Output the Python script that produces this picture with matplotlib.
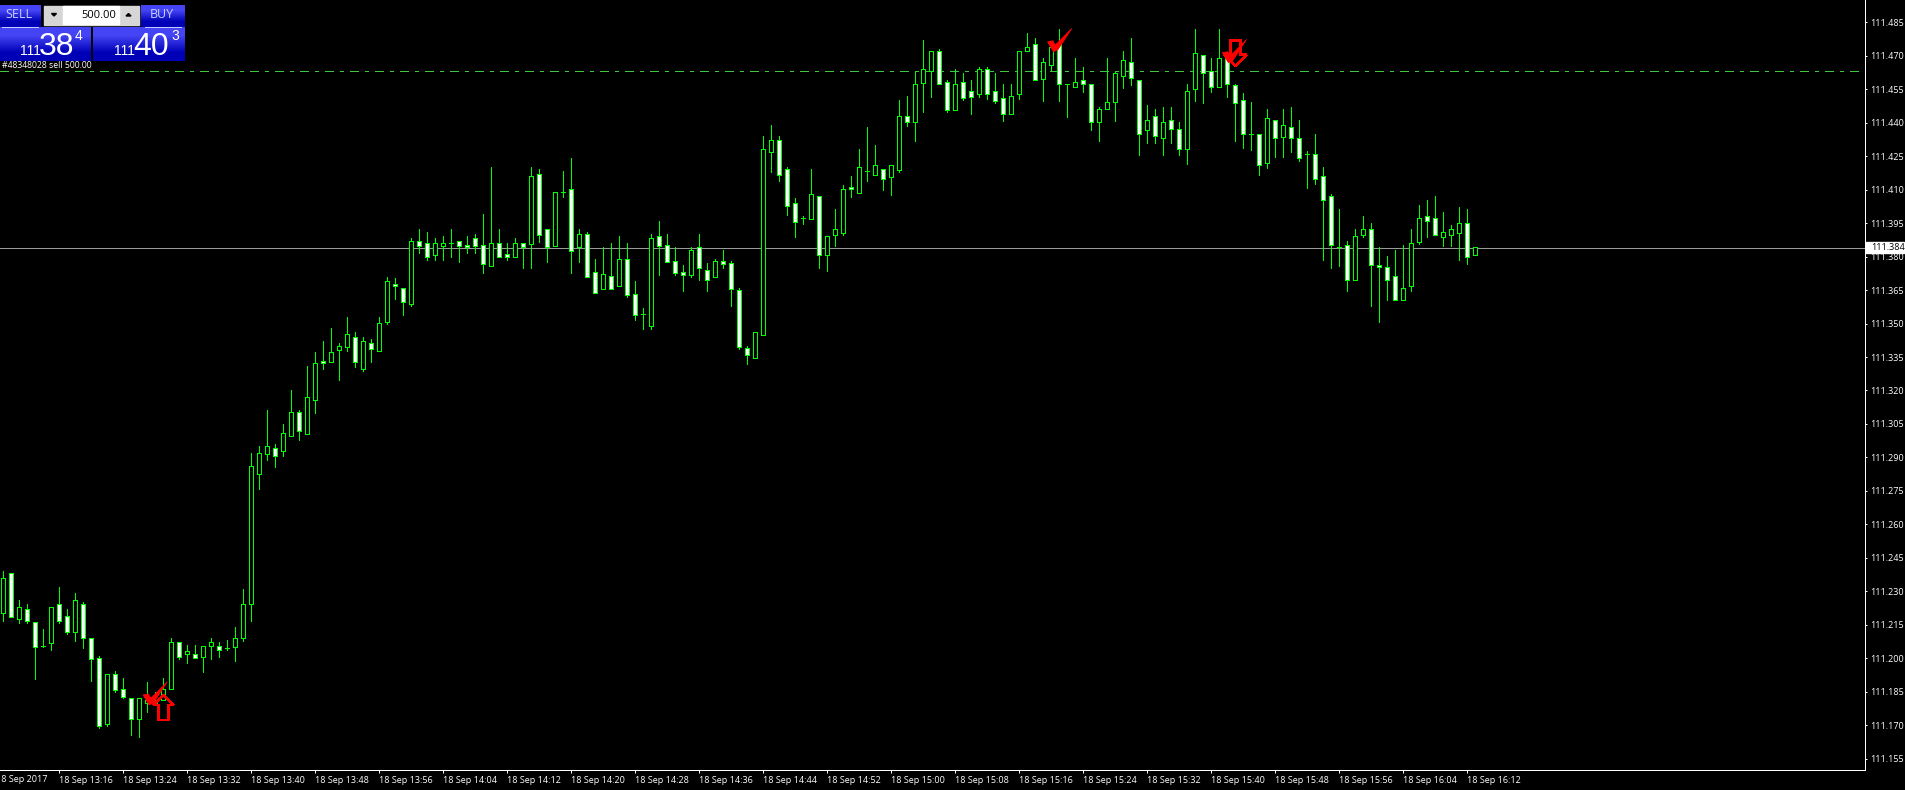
import matplotlib
matplotlib.use('Agg')
import matplotlib.pyplot as plt
from matplotlib.patches import Polygon
from matplotlib.transforms import Affine2D
import numpy as np

plt.rcParams['lines.scale_dashes'] = False

# ----------- DATA (one bar a minute, thousandths above 111) --------------------------------
opens = [
    220.1, 238.1, 217.7, 221.9, 216.1, 205.6, 207.0, 224.2, 218.8, 211.9,
    224.2, 208.9, 200.0, 170.7, 192.8, 186.1, 182.0, 172.9, 179.8, 179.8,
    181.1, 186.1, 207.1, 202.0, 202.0, 200.7, 205.6, 205.6, 204.8, 204.9,
    208.9, 224.2, 282.7, 291.7, 294.1, 293.0, 299.8, 310.2, 300.7, 315.9,
    333.1, 332.9, 338.0, 339.6, 343.8, 329.8, 341.1, 337.8, 350.8, 367.8,
    365.8, 358.9, 386.8, 385.9, 380.9, 384.9, 385.9, 386.8, 385.0, 388.2,
    385.0, 375.9, 385.9, 381.0, 380.0, 385.9, 385.8, 416.9, 392.2, 384.9,
    408.8, 410.2, 384.2, 390.0, 372.9, 365.6, 371.2, 367.0, 378.8, 363.1,
    354.1, 349.1, 389.1, 385.0, 377.9, 372.9, 371.9, 384.2, 373.8, 371.0,
    377.9, 377.0, 364.9, 338.9, 334.7, 345.0, 427.0, 432.1, 419.1, 403.9,
    397.3, 397.0, 407.0, 380.9, 389.8, 390.7, 411.0, 408.7, 418.2, 416.7,
    419.1, 415.8, 419.0, 442.9, 440.2, 457.9, 463.0, 472.0, 458.1, 445.8,
    458.1, 454.1, 453.0, 463.9, 454.1, 450.9, 444.0, 453.0, 472.0, 475.1,
    459.7, 466.0, 475.1, 457.2, 455.9, 459.0, 457.2, 440.2, 446.0, 449.1,
    460.8, 467.1, 459.0, 436.9, 442.9, 433.0, 441.1, 437.0, 428.1, 455.0,
    470.2, 463.0, 455.9, 468.9, 456.9, 450.0, 434.8, 434.8, 421.8, 441.1,
    433.7, 437.9, 433.0, 425.8, 425.8, 416.0, 407.0, 384.2, 385.0, 369.7,
    389.8, 392.2, 376.1, 375.2, 371.2, 360.7, 367.0, 386.7, 398.1, 397.2,
    388.9, 389.8, 390.7, 394.9, 380.9,
]
highs = [
    239.1, 238.1, 226.1, 224.3, 216.1, 213.1, 222.8, 231.8, 222.0, 229.3,
    225.1, 208.9, 200.9, 192.8, 194.1, 191.2, 182.0, 182.0, 189.4, 185.0,
    191.2, 208.9, 207.1, 206.0, 206.0, 205.6, 208.9, 207.1, 208.2, 213.9,
    231.0, 291.8, 295.1, 311.3, 296.0, 305.0, 320.2, 311.3, 331.1, 337.2,
    342.2, 348.0, 341.1, 352.9, 346.2, 344.0, 343.1, 352.9, 370.8, 370.5,
    365.8, 388.2, 392.4, 391.0, 388.3, 389.2, 392.4, 386.8, 389.2, 390.1,
    399.1, 420.2, 392.4, 386.1, 388.3, 385.9, 420.2, 419.3, 392.2, 408.8,
    418.4, 424.2, 392.4, 391.0, 378.9, 384.2, 386.1, 389.2, 386.1, 369.1,
    357.0, 390.1, 396.0, 390.1, 384.2, 376.2, 384.2, 390.1, 377.2, 378.9,
    382.9, 378.0, 365.8, 339.9, 346.1, 434.0, 439.0, 434.0, 420.0, 406.3,
    398.2, 419.3, 407.0, 389.1, 401.3, 412.1, 416.1, 428.2, 438.1, 430.0,
    419.1, 420.9, 450.2, 452.0, 462.9, 477.1, 472.0, 473.0, 459.0, 463.9,
    462.1, 459.1, 464.8, 464.8, 462.1, 457.2, 457.2, 472.0, 480.1, 478.0,
    468.9, 473.8, 482.0, 457.2, 469.0, 465.0, 457.2, 446.9, 469.0, 463.0,
    472.0, 478.0, 459.0, 447.8, 446.0, 446.9, 446.9, 440.2, 457.2, 482.0,
    470.2, 469.0, 482.0, 468.9, 457.2, 453.2, 449.1, 434.8, 446.2, 441.1,
    446.2, 446.9, 441.1, 427.2, 434.8, 420.0, 407.9, 401.3, 386.9, 392.2,
    398.1, 394.9, 384.2, 380.1, 382.8, 385.0, 392.2, 403.0, 405.4, 407.0,
    399.8, 394.0, 402.1, 401.3, 384.2,
]
lows = [
    216.8, 218.6, 216.0, 216.0, 190.9, 204.9, 203.7, 216.0, 211.0, 207.9,
    204.7, 190.0, 168.9, 169.8, 185.0, 182.0, 165.8, 164.9, 176.1, 178.9,
    181.1, 186.1, 199.8, 198.0, 200.0, 194.0, 199.8, 200.7, 203.9, 198.9,
    207.9, 216.9, 276.0, 289.0, 285.9, 290.8, 299.8, 298.0, 300.7, 310.1,
    329.8, 332.9, 324.8, 337.8, 330.7, 328.9, 332.9, 337.8, 350.0, 361.0,
    353.8, 358.0, 381.6, 378.5, 378.5, 378.5, 379.8, 377.6, 381.6, 381.6,
    372.7, 375.9, 380.0, 378.5, 380.0, 374.9, 374.9, 386.5, 377.6, 384.9,
    406.7, 372.7, 377.6, 371.0, 363.8, 365.6, 365.6, 367.0, 362.0, 351.6,
    347.6, 347.6, 371.8, 377.7, 371.8, 364.6, 370.9, 369.5, 364.6, 371.0,
    374.9, 357.9, 338.8, 332.0, 334.7, 345.0, 417.9, 414.0, 398.6, 388.8,
    394.6, 397.0, 374.9, 373.5, 384.8, 389.7, 406.7, 408.7, 413.9, 416.7,
    409.8, 407.6, 417.9, 438.5, 431.9, 444.8, 451.5, 457.2, 444.9, 445.8,
    450.0, 443.9, 451.5, 450.6, 449.0, 440.8, 444.0, 450.6, 472.0, 459.0,
    449.9, 463.6, 449.9, 442.7, 455.9, 453.8, 436.9, 431.9, 446.0, 440.9,
    455.6, 457.0, 425.7, 430.9, 431.1, 425.7, 431.1, 425.7, 421.6, 449.9,
    449.0, 453.9, 455.9, 451.7, 431.9, 428.8, 427.9, 416.7, 419.9, 424.8,
    424.8, 426.9, 423.0, 410.9, 412.7, 378.5, 375.0, 375.9, 364.7, 369.7,
    388.9, 358.0, 350.8, 360.7, 360.7, 360.7, 364.7, 385.8, 388.9, 389.8,
    384.9, 384.9, 378.6, 376.8, 380.9,
]
closes = [
    235.8, 218.6, 222.8, 216.9, 204.9, 205.6, 222.8, 216.9, 211.9, 226.0,
    208.9, 199.8, 169.8, 192.8, 185.9, 182.8, 172.9, 182.0, 181.1, 181.1,
    186.1, 207.1, 200.7, 203.1, 200.0, 205.6, 207.1, 203.9, 204.8, 208.9,
    224.2, 286.0, 291.8, 295.0, 290.8, 300.8, 310.2, 302.0, 316.9, 332.2,
    332.2, 337.1, 339.8, 345.2, 332.9, 342.0, 338.7, 350.1, 369.2, 367.0,
    359.8, 386.8, 384.9, 380.0, 385.9, 385.9, 385.9, 384.9, 384.2, 384.9,
    376.8, 385.9, 380.0, 380.0, 385.9, 384.2, 416.0, 389.8, 384.2, 408.8,
    408.8, 382.7, 390.0, 371.0, 363.8, 372.0, 365.6, 378.8, 362.9, 354.0,
    354.1, 388.2, 384.9, 377.7, 372.8, 371.9, 382.8, 375.0, 369.7, 377.9,
    376.8, 365.6, 339.6, 336.1, 346.1, 428.1, 432.1, 416.7, 402.8, 395.7,
    397.3, 407.9, 380.9, 389.1, 392.2, 410.1, 410.1, 420.0, 418.2, 420.9,
    414.9, 420.9, 442.9, 440.2, 457.2, 463.9, 472.0, 457.2, 445.8, 457.2,
    450.9, 451.7, 463.9, 453.0, 449.9, 444.0, 451.8, 472.0, 473.8, 459.0,
    467.1, 473.8, 457.2, 457.2, 458.1, 457.2, 440.2, 446.0, 449.1, 462.1,
    467.9, 459.9, 434.8, 441.1, 433.9, 440.2, 437.0, 428.1, 454.1, 471.1,
    462.1, 455.9, 468.9, 457.2, 449.0, 434.8, 434.8, 420.9, 442.0, 433.0,
    438.8, 433.0, 424.0, 425.8, 414.9, 405.2, 385.0, 384.2, 369.7, 389.1,
    392.2, 376.1, 375.2, 369.7, 360.7, 365.8, 385.9, 397.2, 395.8, 389.8,
    390.9, 392.2, 394.9, 380.0, 384.2,
]

# time axis: one label every 8 bars
tick_bars = [7, 15, 23, 31, 39, 47, 55, 63, 71, 79, 87, 95, 103, 111, 119, 127, 135, 143, 151, 159, 167, 175, 183]
tick_labels = ['18 Sep 13:16', '18 Sep 13:24', '18 Sep 13:32', '18 Sep 13:40', '18 Sep 13:48', '18 Sep 13:56',
               '18 Sep 14:04', '18 Sep 14:12', '18 Sep 14:20', '18 Sep 14:28', '18 Sep 14:36', '18 Sep 14:44',
               '18 Sep 14:52', '18 Sep 15:00', '18 Sep 15:08', '18 Sep 15:16', '18 Sep 15:24', '18 Sep 15:32',
               '18 Sep 15:40', '18 Sep 15:48', '18 Sep 15:56', '18 Sep 16:04', '18 Sep 16:12']
first_label = '18 Sep 2017'
first_bar = -1

price_ticks = [111.155, 111.170, 111.185, 111.200, 111.215, 111.230, 111.245, 111.260, 111.275, 111.290, 111.305,
               111.320, 111.335, 111.350, 111.365, 111.380, 111.395, 111.410, 111.425, 111.440, 111.455, 111.470,
               111.485]

current_price = 111.384
order_price = 111.463
order_label = '#48348028 sell 500.00'

# trade marks as (bar, price)
check_marks = [(18.2, 111.1791), (131.25, 111.4718), (153.1, 111.4669)]
up_arrow = (20, 111.1835)
down_arrow = (154, 111.4656)

GREEN = '#00ff00'
PX = 0.72  # one pixel in points at dpi 100
W, H = 1906, 790
AX_RIGHT, AX_BOTTOM = 1865.5, 770.0

# ----------- CHART ------------
fig = plt.figure(figsize=(W / 100, H / 100), dpi=100, facecolor='black')
ax = fig.add_axes([0, (H - AX_BOTTOM) / H, AX_RIGHT / W, AX_BOTTOM / H], facecolor='black')
ax.set_xlim(-3.5 / 8, (AX_RIGHT - 3.5) / 8)
ax.set_ylim(111.485 - (AX_BOTTOM - 22.3) / 2231.5, 111.485 + 22.3 / 2231.5)

bars = np.arange(len(opens))
o, h, l, c = [111 + np.array(v) / 1000 for v in (opens, highs, lows, closes)]

ax.plot(ax.get_xlim(), [order_price, order_price], color='#3fc83f', lw=PX, dashes=(9 * PX, 6 * PX, 3 * PX, 6 * PX),
        zorder=1, antialiased=False, dash_capstyle='butt')
ax.axhline(current_price, color='#9a9a9a', lw=PX, zorder=1, antialiased=False)

ax.vlines(bars, l, h, color=GREEN, lw=PX, zorder=2, antialiased=False)
face = ['black' if cl >= op else 'white' for op, cl in zip(o, c)]
ax.bar(bars, np.abs(c - o), bottom=np.minimum(o, c), width=0.5, color=face, edgecolor=GREEN, lw=PX, zorder=3,
       antialiased=False)

for s in ('top', 'left'):
    ax.spines[s].set_visible(False)
for s in ('right', 'bottom'):
    ax.spines[s].set_color('white')
    ax.spines[s].set_linewidth(PX)

font = dict(family='Open Sans', size=6.5)
ax.yaxis.tick_right()
ax.set_yticks(price_ticks)
ax.set_yticklabels(['%.3f' % p for p in price_ticks], color='white', **font)
ax.tick_params(axis='y', colors='white', length=2 * PX, width=PX, pad=2.2)
ax.set_xticks(tick_bars)
ax.set_xticklabels(tick_labels, color='white', ha='left', **font)
ax.tick_params(axis='x', colors='white', length=3 * PX, width=PX, pad=2)

ax.text(first_bar, -0.0065, first_label, color='white', ha='left', va='top', clip_on=False,
        transform=ax.get_xaxis_transform(), **font)

# ----------- TRADE MARKS (shapes in pixels around a data point) ------------
check_shape = [(-6, 10), (-0.7, 11), (1.7, 6.7), (18.3, 23.3), (4.5, 2), (0, 0)]
arrow_up_shape = [(0, 0), (10, -10), (5, -10), (5, -25), (-5, -25), (-5, -10), (-10, -10)]
arrow_down_shape = [(0, 0), (11, 11), (5, 11), (5, 25), (-5, 25), (-5, 11), (-11, 11)]

def at_point(point):
    dx, dy = ax.transData.transform(point)
    return Affine2D().translate(dx, dy)

for shape, point in ((arrow_up_shape, up_arrow), (arrow_down_shape, down_arrow)):
    ax.add_patch(Polygon(shape, closed=True, fill=False, edgecolor='#ff0000', lw=1.5 * PX, zorder=5,
                         transform=at_point(point), clip_on=False, antialiased=False))
for point in check_marks:
    ax.add_patch(Polygon(check_shape, closed=True, facecolor='#ff0000', edgecolor='#ff0000', lw=0.5, zorder=6,
                         transform=at_point(point), clip_on=False))

# ----------- ONE-CLICK TRADING PANEL AND PRICE TAG (in pixels) ------------
ui = fig.add_axes([0, 0, 1, 1], facecolor='none')
ui.set_axis_off()
blue = np.array([[0.27, 0.27, 0.96], [0.0, 0.0, 0.72]])[:, None, :]
for x0, x1, y0, y1 in ((0, 41, 5, 27), (141, 185, 5, 27), (0, 91, 27.5, 61), (93, 185, 27.5, 61)):
    ui.imshow(blue, extent=(x0, x1, y1, y0), aspect='auto', interpolation='bilinear', zorder=1)
ui.fill([44, 139, 139, 44], [5.5, 5.5, 24.5, 24.5], color='#d6d6d6', zorder=2)
ui.fill([63.5, 119, 119, 63.5], [6, 6, 24, 24], color='white', zorder=3)
ui.fill([51.5, 56.5, 54], [13.5, 13.5, 16], color='black', zorder=3)
ui.fill([126, 131, 128.5], [16, 16, 13.5], color='black', zorder=3)
ui.plot([2, 38], [26.5, 26.5], color='#c4ccff', lw=PX, zorder=3)
ui.plot([145, 181], [26.5, 26.5], color='#c4ccff', lw=PX, zorder=3)
ui.text(19, 15, 'SELL', color='#c8d0ff', ha='center', va='center', family='Open Sans', size=9, zorder=4)
ui.text(162, 15, 'BUY', color='#c8d0ff', ha='center', va='center', family='Open Sans', size=9, zorder=4)
ui.text(116, 15, '500.00', color='black', ha='right', va='center', family='Open Sans', size=8, zorder=4)
big = dict(color='white', family='Liberation Sans', zorder=4, va='baseline', ha='left')
ui.text(20, 55, '111', size=10, **big)
ui.text(39, 55, '38', size=23, **big)
ui.text(75, 40, '4', size=10, **big)
ui.text(114, 55, '111', size=10, **big)
ui.text(133, 55, '40', size=23, **big)
ui.text(171, 40, '3', size=10, **big)
ui.text(2, 66, order_label, color='white', ha='left', va='center', family='Open Sans', size=6.2, zorder=0)

tag_y = H - ax.transData.transform((0, current_price))[1]
ui.fill([1866, 1904, 1904, 1866], [tag_y - 5.3, tag_y - 5.3, tag_y + 5.3, tag_y + 5.3], color='white', zorder=5)
ui.text(1871, tag_y, '%.3f' % current_price, color='black', ha='left', va='center', zorder=6, **font)
ui.set_xlim(0, W)
ui.set_ylim(H, 0)

fig.savefig('out.png', dpi=100, facecolor='black')
